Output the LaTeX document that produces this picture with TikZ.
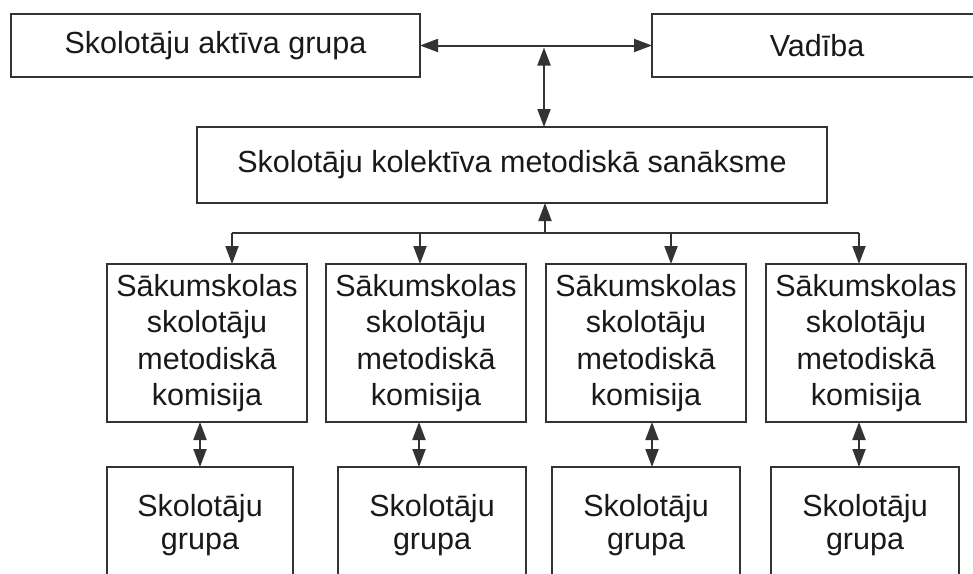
\documentclass[tikz,border=0pt]{standalone}
\usepackage{fontspec}
\setmainfont{Liberation Sans}
\usetikzlibrary{arrows.meta}
\begin{document}
\begin{tikzpicture}[x=1pt,y=-1pt,
  >={Triangle[length=18pt,width=13pt]},
  box/.style={draw=black!80, line width=1.8pt, inner sep=0pt, outer sep=0pt,
    align=center, text=black!90, font=\fontsize{30.5}{36.3}\selectfont},
  grp/.style={box, font=\fontsize{30.5}{33}\selectfont},
  conn/.style={line width=2pt, draw=black!80}]
\clip (0,0) rectangle (973,573);
\fill[white] (0,0) rectangle (973,573);
% top row
\node[box, minimum width=409pt, minimum height=63pt] (akt) at (215.5,45.5) {Skolotāju aktīva grupa};
\node[box, minimum width=330pt, minimum height=63pt] (vad) at (817,45.5) {Vadība};
\node[box, minimum width=630pt, minimum height=76pt] (san) at (512,165) {Skolotāju kolektīva metodiskā sanāksme};
% commissions
\foreach \i/\x in {1/207,2/426,3/646,4/866}{
  \node[box, minimum width=200pt, minimum height=158pt] (k\i) at (\x,343)
    {Sākumskolas\\skolotāju\\metodiskā\\komisija};
}
% groups
\node[grp, minimum width=186pt, minimum height=117pt] (g1) at (200,525.5) {Skolotāju\\grupa};
\node[grp, minimum width=188pt, minimum height=117pt] (g2) at (432,525.5) {Skolotāju\\grupa};
\node[grp, minimum width=188pt, minimum height=117pt] (g3) at (646,525.5) {Skolotāju\\grupa};
\node[grp, minimum width=188pt, minimum height=117pt] (g4) at (865,525.5) {Skolotāju\\grupa};
% connectors
\draw[conn,<->] (akt.east) -- (vad.west);
\coordinate (j) at (544,47.5);
\draw[conn,<->] (j) -- (j |- san.north);
\coordinate (bus) at (545,233);
\draw[conn,->] (bus) -- (bus |- san.south);
\coordinate (b1) at (232,233);
\coordinate (b2) at (420,233);
\coordinate (b3) at (671,233);
\coordinate (b4) at (859,233);
\draw[conn] (b1) -- (b4);
\foreach \i in {1,2,3,4}{
  \draw[conn,->] (b\i) -- (b\i |- k\i.north);
}
\coordinate (d1) at (200,423);
\coordinate (d2) at (419,423);
\coordinate (d3) at (652,423);
\coordinate (d4) at (859,423);
\foreach \i in {1,2,3,4}{
  \draw[conn,<->] (d\i |- k\i.south) -- (d\i |- g\i.north);
}
\end{tikzpicture}
\end{document}
